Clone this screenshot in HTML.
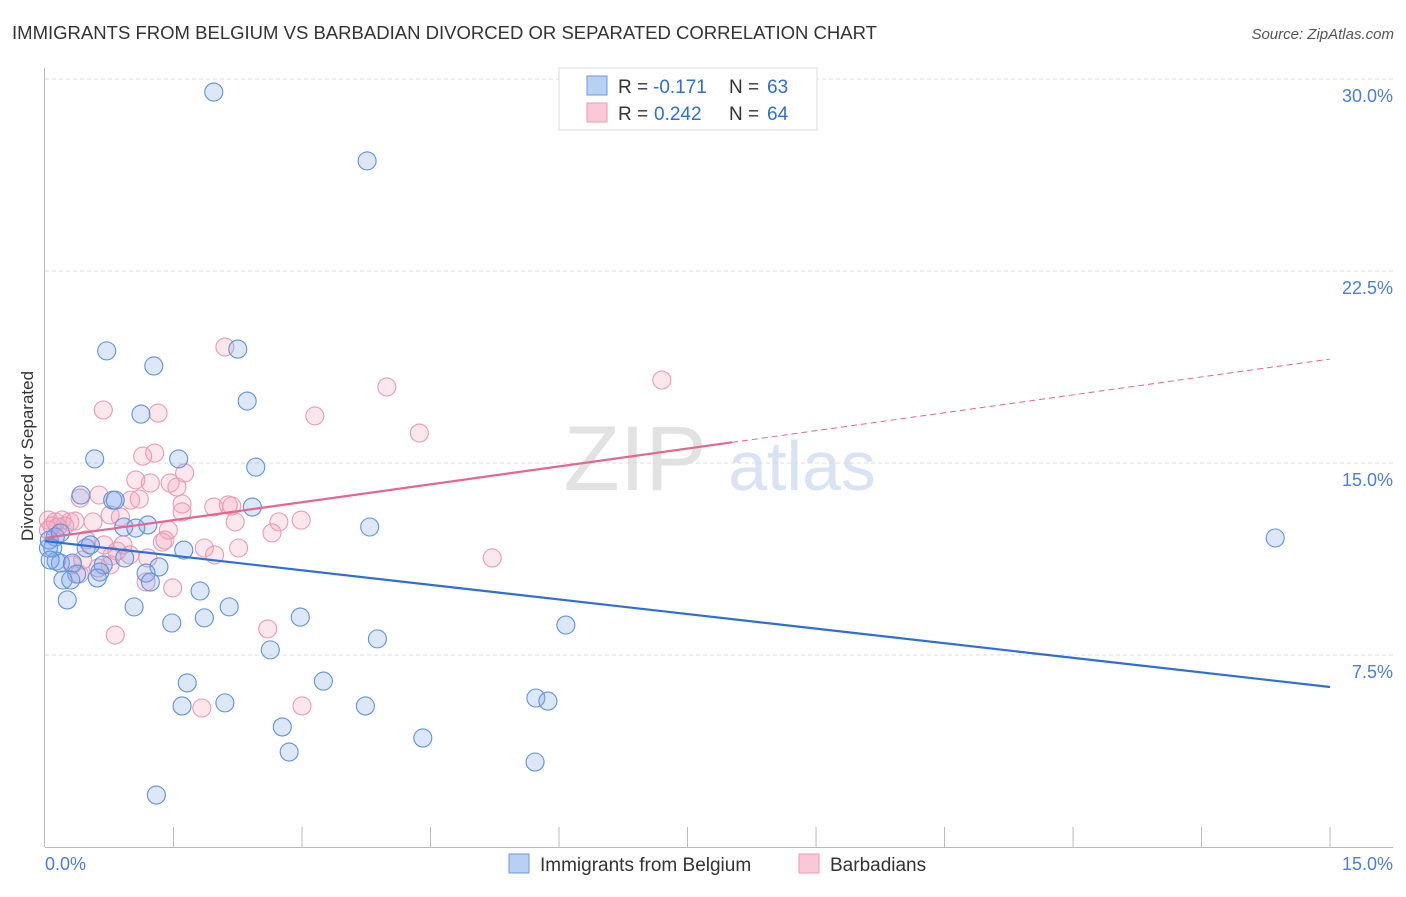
<!DOCTYPE html>
<html><head><meta charset="utf-8"><style>
body{margin:0;background:#fff;font-family:"Liberation Sans",sans-serif}
svg text{font-family:"Liberation Sans",sans-serif}
</style></head><body>
<svg id="c" width="1406" height="892" xmlns="http://www.w3.org/2000/svg">
<text x="12" y="39" font-size="18" fill="#333" textLength="865" lengthAdjust="spacingAndGlyphs">IMMIGRANTS FROM BELGIUM VS BARBADIAN DIVORCED OR SEPARATED CORRELATION CHART</text>
<text x="1394" y="39" font-size="15" fill="#555" font-style="italic" text-anchor="end">Source: ZipAtlas.com</text>
<text x="33" y="456" font-size="17" fill="#333" text-anchor="middle" transform="rotate(-90 33 456)">Divorced or Separated</text>
<g><text x="635" y="490" font-size="92" fill="#e2e2e2" font-family="Liberation Serif" text-anchor="middle">ZIP</text><text x="802" y="490" font-size="70" fill="#d8e3f3" text-anchor="middle">atlas</text></g>
<g id="grid"></g><g id="axes"></g><g id="pts"></g><g id="trend"></g>
<g>
<rect x="559" y="68" width="258" height="62" fill="#fff" stroke="#ddd"/>
<rect x="587" y="76" width="20" height="19" fill="#b8d0f4" stroke="#6a9ae0"/>
<rect x="587" y="103" width="20" height="19" fill="#fbc8d6" stroke="#ee9ab4"/>
<text x="618" y="93" font-size="19" fill="#333">R =</text><text x="653" y="93" font-size="19" fill="#2d6fd6">-0.171</text>
<text x="729" y="93" font-size="19" fill="#333">N =</text><text x="767" y="93" font-size="19" fill="#2d6fd6">63</text>
<text x="618" y="120" font-size="19" fill="#333">R =</text><text x="654" y="120" font-size="19" fill="#2d6fd6">0.242</text>
<text x="729" y="120" font-size="19" fill="#333">N =</text><text x="767" y="120" font-size="19" fill="#2d6fd6">64</text>
</g>
<g>
<rect x="509" y="854" width="20" height="19" fill="#b8d0f4" stroke="#6a9ae0"/>
<text x="540" y="871" font-size="19" fill="#333">Immigrants from Belgium</text>
<rect x="799" y="854" width="20" height="19" fill="#fbc8d6" stroke="#ee9ab4"/>
<text x="830" y="871" font-size="19" fill="#333">Barbadians</text>
</g>
</svg>
<script>
const blueX=[1.97,3.76,0.72,2.25,1.27,1.12,2.36,0.58,1.56,2.46,0.42,0.79,0.82,2.42,1.20,0.92,1.06,3.79,0.12,0.09,0.48,0.53,1.62,0.13,0.18,0.93,0.32,0.68,1.33,1.18,0.37,0.64,0.21,0.30,0.61,1.23,1.81,0.26,1.04,2.15,1.86,2.98,1.48,6.08,3.88,2.63,1.66,3.25,1.60,2.10,3.74,5.73,5.87,2.77,4.41,2.85,5.72,1.30,14.36,0.04,0.06,0.05,0.18];
const blueY=[29.49,26.80,19.38,19.45,18.79,16.91,17.42,15.16,15.16,14.84,13.75,13.55,13.55,13.28,12.58,12.50,12.46,12.50,12.11,11.68,11.68,11.80,11.60,11.17,11.09,11.29,11.09,11.02,10.94,10.70,10.66,10.74,10.43,10.43,10.51,10.35,10.00,9.65,9.38,9.38,8.95,8.98,8.75,8.67,8.13,7.70,6.41,6.48,5.51,5.63,5.51,5.82,5.70,4.69,4.26,3.71,3.32,2.03,12.07,11.68,11.21,11.99,12.27];
const pinkX=[2.10,7.20,3.99,0.68,1.32,3.15,4.37,1.28,1.14,1.63,1.06,1.46,1.23,1.54,0.41,0.63,1.00,1.10,1.97,2.14,2.18,1.60,1.60,0.76,0.88,2.22,2.73,2.99,0.04,0.12,0.20,0.29,0.35,0.08,0.23,0.56,1.44,2.65,0.48,0.69,0.91,1.86,2.26,1.98,1.37,1.40,0.84,0.78,1.20,5.22,0.44,0.32,0.62,0.40,0.76,1.18,1.49,0.82,2.60,1.83,3.00,0.04,0.15,0.99];
const pinkY=[19.53,18.24,17.97,17.07,16.95,16.84,16.17,15.39,15.27,14.61,14.34,14.22,14.22,14.06,13.63,13.75,13.55,13.59,13.28,13.36,13.32,13.40,13.09,12.97,12.89,12.70,12.70,12.77,12.77,12.70,12.77,12.70,12.73,12.54,12.54,12.70,12.38,12.27,11.99,11.80,11.80,11.68,11.68,11.41,11.91,11.99,11.56,11.37,11.29,11.29,11.21,11.02,10.90,10.66,11.02,10.35,10.12,8.28,8.52,5.43,5.51,12.38,12.50,11.41];
const yTicks=[7.5,15,22.5,30];
const yTickLabels=["7.5%","15.0%","22.5%","30.0%"];
const blueTrend=[11.95,-0.38];
const pinkTrend=[12.07,0.466];
const pinkSolidEnd=8.02;
const NS="http://www.w3.org/2000/svg";
const sx=v=>45+v*85.67, sy=v=>847-v*25.6;
function mk(p,t,a){const e=document.createElementNS(NS,t);for(const k in a)e.setAttribute(k,a[k]);document.getElementById(p).appendChild(e);return e;}
yTicks.forEach((t,i)=>{
 const g=mk('grid','line',{x1:45,x2:1393,y1:sy(t),y2:sy(t),stroke:'#ddd','stroke-dasharray':'4,3'});
 
 
 const l=mk('grid','text',{x:1393,y:sy(t)+23,'font-size':18,fill:'#4a7fd6','text-anchor':'end'});
 l.textContent=yTickLabels[i];
 
 
});
const ya=mk('axes','line',{x1:44.5,x2:44.5,y1:68,y2:847,stroke:'#bbb'});


const xa=mk('axes','line',{x1:45,x2:1393,y1:847.5,y2:847.5,stroke:'#bbb'});


for(let i=1;i<=10;i++){const t=mk('axes','line',{x1:sx(i*1.5),x2:sx(i*1.5),y1:827,y2:847,stroke:'#bbb'});
 
 }
[["0.0%",45,'start'],["15.0%",1393,'end']].forEach(a=>{const t=mk('axes','text',{x:a[1],y:870,'font-size':18,fill:'#4a7fd6','text-anchor':a[2]});t.textContent=a[0];
 
 });
pinkX.forEach((x,i)=>{const c=mk('pts','circle',{cx:sx(x),cy:sy(pinkY[i]),r:9,fill:'rgba(244,160,185,0.25)',stroke:'#eb9ab4','stroke-width':1.1});
 
 });
blueX.forEach((x,i)=>{const c=mk('pts','circle',{cx:sx(x),cy:sy(blueY[i]),r:9,fill:'rgba(130,170,235,0.28)',stroke:'#5f93dc','stroke-width':1.1});
 
 });
const bt=mk('trend','line',{x1:sx(0),y1:sy(blueTrend[0]),x2:sx(15),y2:sy(blueTrend[0]+blueTrend[1]*15),stroke:'#2d6fd6','stroke-width':2.2});


const pt=mk('trend','line',{x1:sx(0),y1:sy(pinkTrend[0]),x2:sx(pinkSolidEnd),y2:sy(pinkTrend[0]+pinkTrend[1]*pinkSolidEnd),stroke:'#e5678f','stroke-width':2.2});


const pd=mk('trend','line',{x1:sx(pinkSolidEnd),y1:sy(pinkTrend[0]+pinkTrend[1]*pinkSolidEnd),x2:sx(15),y2:sy(pinkTrend[0]+pinkTrend[1]*15),stroke:'#e5678f','stroke-width':1,'stroke-dasharray':'6,4'});


</script>
</body></html>
